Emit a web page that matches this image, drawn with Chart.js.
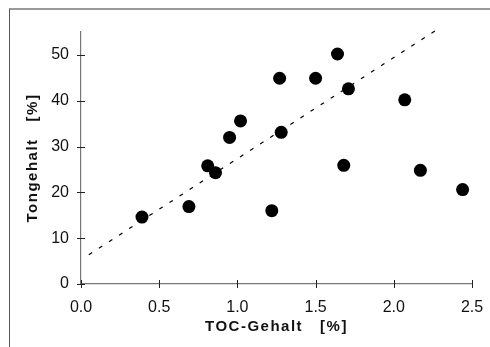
<!DOCTYPE html>
<html><head><meta charset="utf-8">
<script src="https://cdn.jsdelivr.net/npm/chart.js@4"></script>
<style>
html,body{margin:0;padding:0;background:#fff}
#wrap{position:relative;width:490px;height:347px;overflow:hidden}
#frame{position:absolute;left:9px;top:8px;right:-5px;bottom:-5px;border-top:2px solid #9a9a9a;border-left:1px solid #555}
canvas{position:absolute;left:0;top:0}
</style></head>
<body><div id="wrap"><div id="frame"></div><canvas id="c" width="490" height="347"></canvas></div>
<script>
const tocGehalt = [0.39,0.69,0.81,0.86,0.95,1.02,1.22,1.27,1.28,1.50,1.64,1.68,1.71,2.07,2.17,2.44];
const tonGehalt = [14.6,16.9,25.8,24.3,32.0,35.6,16.0,44.9,33.1,44.9,50.2,25.9,42.6,40.2,24.8,20.6];
const trendX = [0.05, 2.28];
const trendY = [6.4, 55.6];
const xTicks = [0,0.5,1.0,1.5,2.0,2.5];
const yTicks = [0,10,20,30,40,50];
const xTitle = 'TOC-Gehalt   [%]';
const yTitle = 'Tongehalt   [%]';

const FONT = '"Liberation Sans", Arial, Helvetica, sans-serif';

const crossTicks = {
  id:'crossTicks',
  afterDraw(chart){
    const {ctx, chartArea:a, scales:{x,y}} = chart;
    ctx.save();
    ctx.strokeStyle = '#222'; ctx.lineWidth = 1;
    xTicks.forEach(v=>{
      const px = Math.round(x.getPixelForValue(v))+0.5;
      ctx.beginPath(); ctx.moveTo(px,a.bottom-4); ctx.lineTo(px,a.bottom+4); ctx.stroke();
    });
    yTicks.forEach(v=>{
      const py = Math.round(y.getPixelForValue(v))+0.5;
      ctx.beginPath(); ctx.moveTo(a.left-4,py); ctx.lineTo(a.left+4,py); ctx.stroke();
    });
    ctx.fillStyle = '#111';
    ctx.font = 'bold 15px ' + FONT;
    ctx.letterSpacing = '1.5px';
    ctx.textAlign = 'center'; ctx.textBaseline = 'middle';
    ctx.fillText(xTitle, (a.left+a.right)/2, 327);
    ctx.translate(33, (a.top+a.bottom)/2);
    ctx.rotate(-Math.PI/2);
    ctx.fillText(yTitle, 0, 0);
    ctx.restore();
  }
};

new Chart(document.getElementById('c'), {
  type:'scatter',
  data:{
    datasets:[
      {
        label:'Proben',
        data: tocGehalt.map((v,i)=>({x:v,y:tonGehalt[i]})),
        backgroundColor:'#000', borderColor:'#000',
        pointRadius:6.5, pointHoverRadius:6.5, borderWidth:0
      },
      {
        label:'Trend',
        type:'line',
        data: trendX.map((v,i)=>({x:v,y:trendY[i]})),
        borderColor:'#000', borderWidth:1.2, borderDash:[4,8],
        pointRadius:0, fill:false, clip:false
      }
    ]
  },
  options:{
    responsive:false, animation:false,
    layout:{padding:{top:32,right:18,left:0,bottom:0}},
    plugins:{legend:{display:false}, tooltip:{enabled:false}},
    scales:{
      x:{
        type:'linear', min:0, max:2.5,
        afterFit(s){ s.height = 63; s.paddingRight = 0; s.paddingLeft = 0; },
        afterBuildTicks(s){ s.ticks = xTicks.map(v=>({value:v})); },
        grid:{display:false, drawTicks:false},
        border:{display:true, color:'#777', width:1.2},
        ticks:{padding:14, color:'#111', font:{size:16, family:FONT}, maxRotation:0,
          callback:v=>Number(v).toFixed(1)}
      },
      y:{
        type:'linear', min:0, max:55,
        afterFit(s){ s.width = 81; s.paddingTop = 0; s.paddingBottom = 0; },
        afterBuildTicks(s){ s.ticks = yTicks.map(v=>({value:v})); },
        grid:{display:false, drawTicks:false},
        border:{display:true, color:'#777', width:1.2},
        ticks:{padding:12, color:'#111', font:{size:16, family:FONT}}
      }
    }
  },
  plugins:[crossTicks]
});
</script>
</body></html>
